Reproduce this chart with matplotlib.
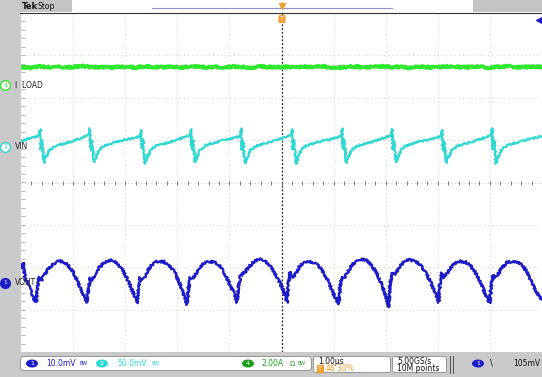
import numpy as np
import matplotlib.pyplot as plt
from matplotlib.patches import Rectangle, FancyBboxPatch, Ellipse

# ---- captured waveforms (time in us, 1.00 us/div) ----
# CH1 VOUT ripple, mV
vout_t = [0.00, 0.04, 0.08, 0.16, 0.23, 0.29,
          0.31, 0.35, 0.39, 0.44, 0.52, 0.62, 0.71, 0.81, 0.90, 1.00, 1.09, 1.17, 1.27,
          1.29, 1.33, 1.37, 1.42, 1.50, 1.60, 1.69, 1.79, 1.88, 1.98, 2.07, 2.15, 2.23,
          2.25, 2.29, 2.33, 2.38, 2.46, 2.56, 2.65, 2.75, 2.84, 2.94, 3.03, 3.11, 3.19,
          3.21, 3.25, 3.29, 3.34, 3.42, 3.52, 3.61, 3.71, 3.80, 3.90, 3.99, 4.07, 4.15,
          4.17, 4.21, 4.25, 4.30, 4.38, 4.48, 4.57, 4.67, 4.76, 4.86, 4.95, 5.03, 5.11,
          5.13, 5.17, 5.21, 5.26, 5.34, 5.44, 5.53, 5.63, 5.72, 5.82, 5.91, 5.99, 6.10,
          6.12, 6.16, 6.20, 6.25, 6.33, 6.43, 6.52, 6.62, 6.71, 6.81, 6.90, 6.98, 7.06,
          7.08, 7.12, 7.16, 7.21, 7.29, 7.39, 7.48, 7.58, 7.67, 7.77, 7.86, 7.94, 8.02,
          8.04, 8.08, 8.12, 8.17, 8.25, 8.35, 8.44, 8.54, 8.63, 8.73, 8.82, 8.90, 9.00,
          9.02, 9.06, 9.10, 9.15, 9.23, 9.33, 9.42, 9.52, 9.61, 9.71, 9.80, 9.88, 9.98, 10.0]
vout_mv = [3.5, 4.8, 1.0, -0.4, -3.5, -4.5,
           -1.7, 1.4, 0.5, 1.7, 3.3, 4.5, 5.2, 5.0, 4.2, 2.6, 0.2, -2.1, -4.6,
           -1.5, 1.2, 0.6, 2.0, 3.6, 4.8, 5.4, 5.2, 4.3, 2.4, 0.1, -2.2, -4.8,
           -1.8, 1.3, 0.9, 1.6, 3.5, 4.9, 5.1, 5.0, 4.1, 2.7, 0.3, -2.3, -5.1,
           -1.6, 1.3, 1.0, 1.8, 3.4, 4.7, 5.0, 4.9, 4.2, 2.5, 0.1, -2.0, -4.6,
           -1.4, 1.5, 2.1, 2.6, 3.9, 5.1, 5.6, 5.3, 4.4, 2.6, 0.6, -1.6, -4.7,
           0.0, 2.6, 1.2, 2.0, 3.8, 4.9, 5.1, 4.8, 3.9, 2.2, 0.0, -2.4, -5.0,
           -1.2, 1.4, 1.1, 2.0, 3.8, 5.2, 5.6, 5.4, 4.5, 2.6, 0.3, -2.2, -5.7,
           -0.5, 2.3, 1.9, 2.6, 4.2, 5.3, 5.4, 5.1, 4.2, 2.5, 0.2, -2.0, -4.6,
           -0.4, 2.4, 1.2, 2.0, 3.7, 4.9, 5.1, 4.9, 4.0, 2.3, 0.0, -2.2, -4.8,
           -1.0, 1.9, 1.2, 2.0, 3.6, 4.9, 5.1, 5.0, 4.3, 2.6, 0.3, -1.8, -4.0, -3.5]

# CH2 VIN, mV
vin_t = [0.00, 0.15, 0.28,
         0.35, 0.37, 0.38, 0.40, 0.44, 0.48, 0.54, 0.65, 0.95, 1.22,
         1.31, 1.32, 1.34, 1.36, 1.40, 1.44, 1.50, 1.61, 1.90, 2.20,
         2.29, 2.30, 2.32, 2.34, 2.38, 2.42, 2.48, 2.59, 2.88, 3.16,
         3.25, 3.26, 3.28, 3.30, 3.34, 3.38, 3.44, 3.55, 3.84, 4.12,
         4.21, 4.22, 4.24, 4.26, 4.30, 4.34, 4.40, 4.51, 4.80, 5.10,
         5.19, 5.20, 5.22, 5.24, 5.28, 5.32, 5.38, 5.49, 5.78, 6.06,
         6.15, 6.16, 6.18, 6.20, 6.24, 6.28, 6.34, 6.45, 6.74, 7.02,
         7.11, 7.12, 7.14, 7.16, 7.20, 7.24, 7.30, 7.41, 7.70, 7.98,
         8.07, 8.08, 8.10, 8.12, 8.16, 8.20, 8.26, 8.37, 8.66, 8.94,
         9.03, 9.04, 9.06, 9.08, 9.12, 9.16, 9.22, 9.33, 9.62, 10.0]
vin_mv = [7, 10, 12,
          13, 21, -3, 8, -19, -13, -4, 1, 6, 12,
          14, 22, -4, 7, -18, -12, -3, 2, 7, 11,
          13, 20, -2, 9, -20, -13, -4, 1, 6, 12,
          14, 21, -3, 8, -18, -12, -3, 2, 7, 11,
          13, 22, -4, 7, -19, -13, -4, 1, 6, 12,
          14, 21, -3, 8, -20, -13, -3, 2, 7, 11,
          13, 22, -2, 9, -19, -12, -4, 1, 6, 12,
          14, 21, -3, 8, -18, -12, -3, 2, 7, 11,
          13, 20, -4, 7, -19, -13, -4, 1, 6, 12,
          14, 22, -3, 8, -20, -13, -3, 2, 7, 13]

# CH4 I LOAD, A
iload_a = [0.86, 0.82, 0.88, 0.84, 0.87, 0.83, 0.86, 0.89, 0.84, 0.85, 0.82, 0.87,
           0.86, 0.83, 0.88, 0.85, 0.84, 0.87, 0.82, 0.86, 0.88, 0.84, 0.85, 0.83,
           0.87, 0.86, 0.82, 0.88, 0.85, 0.84, 0.86, 0.83, 0.87, 0.85, 0.88, 0.84,
           0.82, 0.86, 0.87, 0.83, 0.85, 0.88, 0.84, 0.86, 0.82, 0.87, 0.85, 0.83,
           0.88, 0.86, 0.84, 0.85, 0.87, 0.82, 0.86, 0.88, 0.83, 0.85, 0.87, 0.84]
iload_t = np.linspace(0, 10, len(iload_a))

# channel scale (units/div) and position (div)
ch1_scale, ch1_pos = 10.0, -2.37
ch2_scale, ch2_pos = 50.0, 0.84
ch4_scale, ch4_pos = 2.0, 2.30

C1, C2, C4 = '#1c1cc8', '#30d8d4', '#2ee82e'
ORANGE = '#f0a030'

W, H = 542, 377
fig = plt.figure(figsize=(W / 100, H / 100), dpi=100)
fig.patch.set_facecolor('#cacaca')

gx0, gx1, gy0, gy1 = 21, 542, 13, 352
ax = fig.add_axes([gx0 / W, 1 - gy1 / H, (gx1 - gx0) / W, (gy1 - gy0) / H])
ax.set_xlim(0, 10)
ax.set_ylim(-4, 4)
ax.set_facecolor('white')
for s in ax.spines.values():
    s.set_visible(False)
ax.set_xticks([])
ax.set_yticks([])

# graticule
for xv in range(1, 10):
    if xv != 5:
        ax.axvline(xv, color='#bcbcbc', lw=0.6, ls=(0, (1, 4)))
for yv in range(-3, 4):
    if yv != 0:
        ax.axhline(yv, color='#bcbcbc', lw=0.6, ls=(0, (1, 4)))
ax.axvline(5, color='#222222', lw=0.9, ls=(0, (1.5, 1.5)))
ax.axhline(0, color='#b0b0b0', lw=0.6, ls=(0, (1, 3)))
sub = np.arange(0.2, 10, 0.2)
ax.plot(sub, np.zeros_like(sub), ls='none', marker='|', ms=2.5, mew=0.6, color='#666666')
suby = np.arange(-3.8, 4, 0.2)
ax.plot(np.full_like(suby, 0.03), suby, ls='none', marker='_', ms=2.5, mew=0.5, color='#9a9a9a')

# traces
l4, = ax.plot(iload_t, ch4_pos + np.array(iload_a) / ch4_scale, color=C4, lw=2.6)
l2, = ax.plot(vin_t, ch2_pos + np.array(vin_mv) / ch2_scale, color=C2, lw=1.5)
l1, = ax.plot(vout_t, ch1_pos + np.array(vout_mv) / ch1_scale, color=C1, lw=1.7)
l4.set_sketch_params(scale=1.0, length=2, randomness=2)
l2.set_sketch_params(scale=0.9, length=2, randomness=2)
l1.set_sketch_params(scale=1.1, length=2, randomness=2)

# channel ground markers and labels
ytr = ax.get_yaxis_transform()
for pos, col, num, name, filled in [(ch4_pos, C4, '4', 'I  LOAD', False),
                                     (ch2_pos, C2, '2', 'VIN', False),
                                     (ch1_pos, C1, '1', 'VOUT', True)]:
    ax.plot([-0.03], [pos], transform=ytr, marker='o', ms=7, clip_on=False,
            mfc=col if filled else 'white', mec=col, mew=1.0)
    ax.text(-0.03, pos, num, transform=ytr, ha='center', va='center', fontsize=4.5,
            color='white' if filled else col, clip_on=False)
    ax.text(-0.012, pos, name, transform=ytr, ha='left', va='center', fontsize=5.5,
            color='#222222')

# overlay in pixel units for header and status bar
ov = fig.add_axes([0, 0, 1, 1], zorder=5)
ov.set_xlim(0, W)
ov.set_ylim(H, 0)
ov.axis('off')
ov.patch.set_visible(False)

ov.add_patch(Rectangle((20, 0), 522, 12.5, fc='white', ec='none'))
ov.add_patch(Rectangle((20, 0), 52, 12, fc='#c4c4c4', ec='none'))
ov.add_patch(Rectangle((473, 0), 69, 12, fc='#c4c4c4', ec='none'))
ov.plot([20, 542], [12.5, 12.5], color='#333333', lw=0.8)
ov.plot([152, 392], [8, 8], color='#9090d8', lw=0.8)
ov.text(22, 6.5, 'Tek', fontsize=6, fontweight='bold', va='center', color='#111111')
ov.text(37, 6.5, 'Stop', fontsize=5.5, va='center', color='#111111')
ov.plot([282], [6], marker='v', ms=4, color=ORANGE)
ov.text(282, 19, 'T', fontsize=4.5, ha='center', va='center', color='white',
        bbox=dict(boxstyle='round,pad=0.15', fc=ORANGE, ec=ORANGE))
ov.plot([539], [20], marker='<', ms=4, color=C1)

# status bar
ov.add_patch(FancyBboxPatch((21, 357), 290, 13, boxstyle='round,pad=0.5,rounding_size=3',
                            fc='white', ec='#8a8a8a', lw=0.6))
ov.add_patch(FancyBboxPatch((314, 357), 76, 15, boxstyle='round,pad=0.5,rounding_size=2',
                            fc='white', ec='#8a8a8a', lw=0.6))
ov.add_patch(FancyBboxPatch((393, 357), 53, 15, boxstyle='round,pad=0.5,rounding_size=2',
                            fc='white', ec='#8a8a8a', lw=0.6))
ov.plot([450, 450], [356, 373], color='#555555', lw=0.7)
ov.plot([453, 453], [356, 373], color='#555555', lw=0.7)

for cx, col, num in [(32, C1, '1'), (102, C2, '2'), (248, '#1aa01a', '4'), (478, C1, '1')]:
    ov.add_patch(Ellipse((cx, 363.5), 12, 8, fc=col, ec='none'))
    ov.text(cx, 363.5, num, fontsize=4.5, ha='center', va='center', color='white')

ov.text(46, 363.5, '10.0mV', fontsize=5.5, va='center', color=C1)
ov.text(80, 363.5, 'BW', fontsize=3.5, va='center', color=C1)
ov.text(117, 363.5, '50.0mV', fontsize=5.5, va='center', color=C2)
ov.text(151, 363.5, 'BW', fontsize=3.5, va='center', color=C2)
ov.text(262, 363.5, '2.00A', fontsize=5.5, va='center', color='#1aa01a')
ov.text(290, 363.5, 'Ω', fontsize=5, va='center', color='#1aa01a')
ov.text(297, 363.5, 'BW', fontsize=3.5, va='center', color='#1aa01a')

ov.text(318, 361, '1.00µs', fontsize=5.5, va='center', color='#111111')
ov.text(318, 368.5, 'T', fontsize=4.5, va='center', color='white',
        bbox=dict(boxstyle='square,pad=0.1', fc=ORANGE, ec=ORANGE))
ov.text(326, 368.5, '48.30%', fontsize=5.5, va='center', color=ORANGE)
ov.text(397, 361, '5.00GS/s', fontsize=5.5, va='center', color='#111111')
ov.text(397, 368.5, '10M points', fontsize=5.5, va='center', color='#111111')
ov.text(490, 363.5, '\\', fontsize=6, va='center', color='#111111')
ov.text(513, 363.5, '105mV', fontsize=5.5, va='center', color='#111111')

fig.savefig('out.png', dpi=100, facecolor=fig.get_facecolor())
